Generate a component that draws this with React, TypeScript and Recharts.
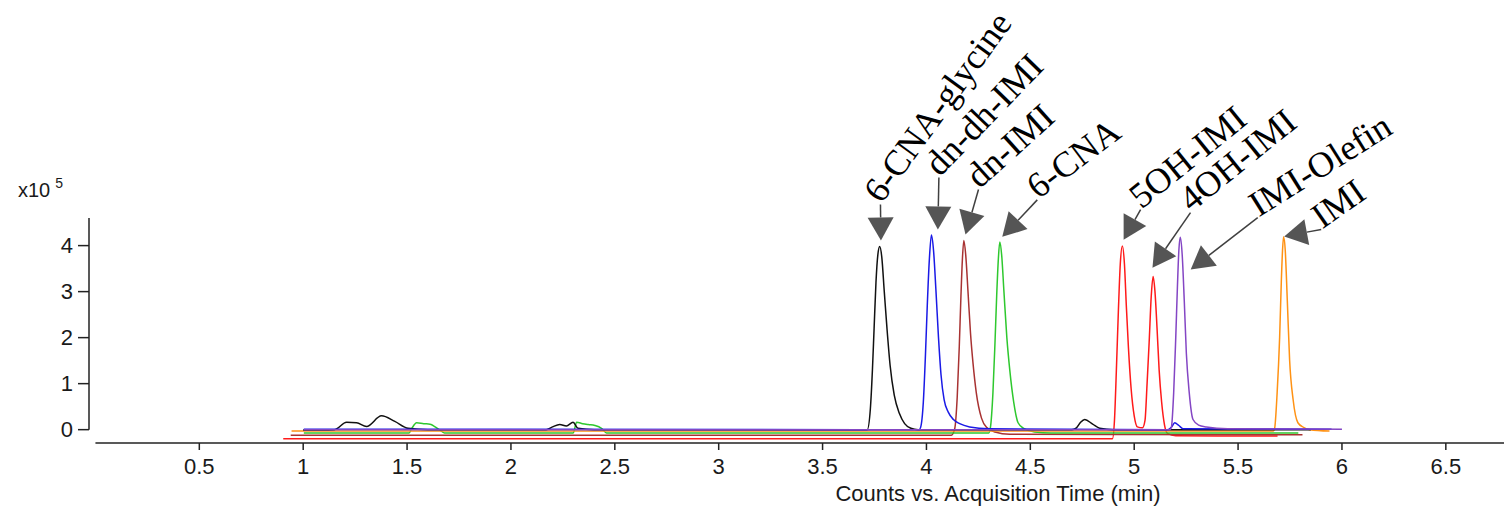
import { LineChart, Line, XAxis, YAxis, ReferenceLine, ReferenceDot } from 'recharts';

// retention time (min) / counts (x10^5) for each extracted trace
const blackTrace = [
    { t: 1.0, v: -0.01 }, { t: 1.15, v: 0.0 }, { t: 1.209, v: 0.16 }, { t: 1.257, v: 0.15 }, { t: 1.305, v: 0.07 },
    { t: 1.377, v: 0.3 }, { t: 1.441, v: 0.18 }, { t: 1.505, v: 0.03 }, { t: 1.6, v: 0.0 }, { t: 2.17, v: 0.0 },
    { t: 2.2, v: 0.06 }, { t: 2.235, v: 0.11 }, { t: 2.267, v: 0.08 }, { t: 2.299, v: 0.16 }, { t: 2.323, v: 0.03 },
    { t: 2.4, v: 0.0 }, { t: 3.715, v: 0.0 }, { t: 3.73, v: 0.45 }, { t: 3.74, v: 1.3 }, { t: 3.748, v: 2.2 },
    { t: 3.757, v: 3.2 }, { t: 3.766, v: 3.8 }, { t: 3.775, v: 3.98 }, { t: 3.785, v: 3.75 }, { t: 3.797, v: 3.0 },
    { t: 3.81, v: 2.2 }, { t: 3.825, v: 1.4 }, { t: 3.845, v: 0.75 }, { t: 3.87, v: 0.35 }, { t: 3.895, v: 0.13 },
    { t: 3.925, v: 0.03 }, { t: 3.96, v: 0.0 }, { t: 4.7, v: 0.0 }, { t: 4.722, v: 0.04 }, { t: 4.742, v: 0.16 },
    { t: 4.762, v: 0.22 }, { t: 4.8, v: 0.12 }, { t: 4.834, v: 0.03 }, { t: 4.9, v: 0.0 }, { t: 5.85, v: 0.0 },
];

const blueTrace = [
    { t: 1.003, v: 0.01 }, { t: 3.965, v: 0.0 }, { t: 3.972, v: 0.05 }, { t: 3.985, v: 0.6 }, { t: 3.995, v: 1.6 },
    { t: 4.004, v: 2.7 }, { t: 4.014, v: 3.7 }, { t: 4.024, v: 4.23 }, { t: 4.034, v: 3.9 }, { t: 4.046, v: 3.0 },
    { t: 4.058, v: 2.0 }, { t: 4.07, v: 1.2 }, { t: 4.085, v: 0.65 }, { t: 4.105, v: 0.38 }, { t: 4.13, v: 0.22 },
    { t: 4.16, v: 0.13 }, { t: 4.208, v: 0.06 }, { t: 4.3, v: 0.02 }, { t: 5.16, v: 0.0 }, { t: 5.18, v: 0.06 },
    { t: 5.195, v: 0.15 }, { t: 5.215, v: 0.09 }, { t: 5.235, v: 0.02 }, { t: 5.95, v: 0.01 },
];

const brownTrace = [
    { t: 0.94, v: -0.12 }, { t: 4.12, v: -0.12 }, { t: 4.136, v: 0.02 }, { t: 4.148, v: 0.7 }, { t: 4.158, v: 1.8 },
    { t: 4.166, v: 2.9 }, { t: 4.173, v: 3.7 }, { t: 4.18, v: 4.11 }, { t: 4.189, v: 3.8 }, { t: 4.2, v: 3.0 },
    { t: 4.212, v: 2.1 }, { t: 4.224, v: 1.45 }, { t: 4.24, v: 0.8 }, { t: 4.265, v: 0.25 }, { t: 4.289, v: 0.05 },
    { t: 4.33, v: -0.05 }, { t: 4.4, v: -0.1 }, { t: 5.81, v: -0.11 },
];

const greenTrace = [
    { t: 1.003, v: -0.07 }, { t: 1.51, v: -0.07 }, { t: 1.522, v: 0.02 }, { t: 1.546, v: 0.15 }, { t: 1.58, v: 0.13 },
    { t: 1.61, v: 0.12 }, { t: 1.655, v: 0.0 }, { t: 1.68, v: -0.07 }, { t: 2.3, v: -0.07 }, { t: 2.316, v: 0.16 },
    { t: 2.345, v: 0.13 }, { t: 2.372, v: 0.11 }, { t: 2.404, v: 0.09 }, { t: 2.436, v: 0.03 }, { t: 2.46, v: -0.07 },
    { t: 4.3, v: -0.07 }, { t: 4.308, v: 0.05 }, { t: 4.32, v: 0.8 }, { t: 4.33, v: 1.9 }, { t: 4.338, v: 2.9 },
    { t: 4.346, v: 3.7 }, { t: 4.353, v: 4.08 }, { t: 4.362, v: 3.8 }, { t: 4.373, v: 3.0 }, { t: 4.387, v: 2.0 },
    { t: 4.401, v: 1.3 }, { t: 4.42, v: 0.6 }, { t: 4.441, v: 0.15 }, { t: 4.47, v: 0.02 }, { t: 4.52, v: -0.05 },
    { t: 4.6, v: -0.07 }, { t: 5.79, v: -0.07 },
];

const redTrace = [
    { t: 0.904, v: -0.2 }, { t: 4.895, v: -0.2 }, { t: 4.905, v: 0.2 }, { t: 4.915, v: 1.4 }, { t: 4.924, v: 2.6 },
    { t: 4.933, v: 3.6 }, { t: 4.943, v: 3.99 }, { t: 4.953, v: 3.6 }, { t: 4.962, v: 2.7 }, { t: 4.972, v: 1.8 },
    { t: 4.985, v: 0.9 }, { t: 5.0, v: 0.3 }, { t: 5.015, v: 0.06 }, { t: 5.04, v: 0.04 }, { t: 5.052, v: 0.2 },
    { t: 5.062, v: 1.0 }, { t: 5.072, v: 1.9 }, { t: 5.082, v: 2.9 }, { t: 5.091, v: 3.33 }, { t: 5.1, v: 3.0 },
    { t: 5.11, v: 2.2 }, { t: 5.12, v: 1.3 }, { t: 5.132, v: 0.6 }, { t: 5.146, v: 0.1 }, { t: 5.16, v: -0.08 },
    { t: 5.2, v: -0.13 }, { t: 5.69, v: -0.14 },
];

const purpleTrace = [
    { t: 1.003, v: 0.0 }, { t: 5.172, v: 0.0 }, { t: 5.179, v: 0.05 }, { t: 5.19, v: 0.8 }, { t: 5.2, v: 2.0 },
    { t: 5.208, v: 3.1 }, { t: 5.215, v: 3.9 }, { t: 5.222, v: 4.18 }, { t: 5.231, v: 3.8 }, { t: 5.241, v: 2.8 },
    { t: 5.251, v: 1.66 }, { t: 5.265, v: 0.8 }, { t: 5.283, v: 0.22 }, { t: 5.31, v: 0.1 }, { t: 5.347, v: 0.06 },
    { t: 5.45, v: 0.02 }, { t: 6.0, v: 0.01 },
];

const orangeTrace = [
    { t: 0.944, v: -0.03 }, { t: 5.67, v: -0.03 }, { t: 5.676, v: 0.03 }, { t: 5.688, v: 0.8 }, { t: 5.7, v: 2.0 },
    { t: 5.708, v: 3.2 }, { t: 5.714, v: 3.9 }, { t: 5.719, v: 4.19 }, { t: 5.727, v: 3.9 }, { t: 5.737, v: 2.8 },
    { t: 5.748, v: 1.52 }, { t: 5.765, v: 0.65 }, { t: 5.788, v: 0.15 }, { t: 5.815, v: 0.05 }, { t: 5.845, v: 0.0 },
    { t: 5.94, v: -0.03 },
];

// peak labels and where their arrows point (min, x10^5 counts)
const peakNames = ['6-CNA-glycine', 'dn-dh-IMI', 'dn-IMI', '6-CNA', '5OH-IMI', '4OH-IMI', 'IMI-Olefin', 'IMI'];
const arrowTipTimes = [3.781, 4.055, 4.188, 4.365, 4.949, 5.088, 5.272, 5.722];
const arrowTipCounts = [4.11, 4.35, 4.24, 4.19, 4.13, 3.52, 3.48, 4.2];

const xTicks = [0.5, 1, 1.5, 2, 2.5, 3, 3.5, 4, 4.5, 5, 5.5, 6, 6.5];
const yTicks = [0, 1, 2, 3, 4];

// layout of the callouts: arrow tail offset from tip (px) and text angle (deg)
const callouts = [
    { dx: -0.5, dy: -36, angle: 54 },
    { dx: 1, dy: -52, angle: 46 },
    { dx: 13, dy: -45, angle: 42 },
    { dx: 35, dy: -37, angle: 37 },
    { dx: 17, dy: -30, angle: 39 },
    { dx: 38, dy: -55, angle: 39 },
    { dx: 67, dy: -52, angle: 32 },
    { dx: 37, dy: -7, angle: 35 },
];

const X_MIN = -0.031;
const X_MAX = 6.78;
const Y_MIN = -0.29;
const Y_MAX = 4.6;

const sans = 'Liberation Sans, Arial, sans-serif';
const serif = 'Liberation Serif, Times New Roman, serif';
const axisColor = '#222';

const series = [
    { data: redTrace, color: '#ff1a1a' },
    { data: brownTrace, color: '#a83232' },
    { data: greenTrace, color: '#2ec82e' },
    { data: orangeTrace, color: '#ff9214' },
    { data: blackTrace, color: '#111111' },
    { data: blueTrace, color: '#1a1ae6' },
    { data: purpleTrace, color: '#8446c4' },
];

function Callout({ cx, cy, dx, dy, angle, text }: { cx: number; cy: number; dx: number; dy: number; angle: number; text: string }) {
    const len = Math.hypot(dx, dy);
    const ux = dx / len;
    const uy = dy / len;
    const head = 23;
    const half = 13;
    const bx = cx + ux * head;
    const by = cy + uy * head;
    const nx = -uy;
    const ny = ux;
    const pts = `${cx},${cy} ${bx + nx * half},${by + ny * half} ${bx - nx * half},${by - ny * half}`;
    const tx = cx + dx;
    const ty = cy + dy;
    return (
        <g>
            <line x1={bx} y1={by} x2={tx} y2={ty} stroke="#404040" strokeWidth={1.5} />
            <polygon points={pts} fill="#555" />
            <text
                x={tx + 1}
                y={ty}
                transform={`rotate(${-angle} ${tx + 1} ${ty})`}
                fontFamily={serif}
                fontSize={36}
                fill="#000"
            >
                {text}
            </text>
        </g>
    );
}

export default function App() {
    return (
        <div style={{ position: 'absolute', left: 0, top: 0, width: 1504, height: 516, background: '#fff' }}>
            <LineChart
                width={1504}
                height={516}
                margin={{ top: 218, right: 0, bottom: 0, left: 29 }}
            >
                <XAxis
                    type="number"
                    dataKey="t"
                    domain={[X_MIN, X_MAX]}
                    allowDataOverflow
                    ticks={xTicks}
                    axisLine={false}
                    tickLine={{ stroke: axisColor, strokeWidth: 1.5 }}
                    tickSize={7}
                    tickMargin={8}
                    tick={{ fontSize: 22, fill: '#1a1a1a', fontFamily: sans }}
                    height={73}
                />
                <YAxis
                    type="number"
                    domain={[Y_MIN, Y_MAX]}
                    allowDataOverflow
                    ticks={yTicks}
                    axisLine={false}
                    tickLine={{ stroke: axisColor, strokeWidth: 1.5 }}
                    tickSize={11}
                    tickMargin={5}
                    tick={{ fontSize: 22, fill: '#1a1a1a', fontFamily: sans }}
                    width={60}
                />
                <ReferenceLine
                    segment={[{ x: 0.0, y: Y_MIN }, { x: X_MAX, y: Y_MIN }]}
                    stroke={axisColor}
                    strokeWidth={1.5}
                    ifOverflow="visible"
                />
                <ReferenceLine
                    segment={[{ x: X_MIN, y: 0 }, { x: X_MIN, y: Y_MAX }]}
                    stroke={axisColor}
                    strokeWidth={1.5}
                    ifOverflow="visible"
                />
                {series.map((s, i) => (
                    <Line
                        key={i}
                        data={s.data}
                        dataKey="v"
                        type="monotone"
                        stroke={s.color}
                        strokeWidth={1.5}
                        dot={false}
                        activeDot={false}
                        isAnimationActive={false}
                    />
                ))}
                {peakNames.map((name, i) => (
                    <ReferenceDot
                        key={name}
                        x={arrowTipTimes[i]}
                        y={arrowTipCounts[i]}
                        r={0}
                        ifOverflow="visible"
                        shape={(p: any) => (
                            <Callout
                                cx={p.cx}
                                cy={p.cy}
                                dx={callouts[i].dx}
                                dy={callouts[i].dy}
                                angle={callouts[i].angle}
                                text={name}
                            />
                        )}
                    />
                ))}
            </LineChart>
            <div
                style={{
                    position: 'absolute',
                    left: 18,
                    top: 180,
                    fontFamily: sans,
                    fontSize: 20,
                    color: '#1a1a1a',
                    lineHeight: '20px',
                    whiteSpace: 'nowrap',
                }}
            >
                x10<span style={{ fontSize: 14, position: 'relative', top: -9, marginLeft: 5 }}>5</span>
            </div>
            <div
                style={{
                    position: 'absolute',
                    left: 798,
                    width: 400,
                    top: 483,
                    textAlign: 'center',
                    fontFamily: sans,
                    fontSize: 22,
                    color: '#1a1a1a',
                    lineHeight: '22px',
                    whiteSpace: 'nowrap',
                }}
            >
                Counts vs. Acquisition Time (min)
            </div>
        </div>
    );
}
